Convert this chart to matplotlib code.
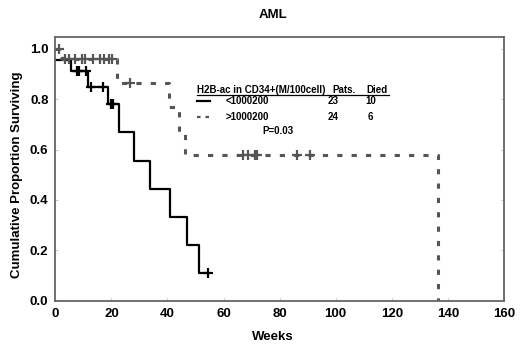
import numpy as np
import matplotlib
matplotlib.use("Agg")
import matplotlib.pyplot as plt

plt.rcParams['font.family'] = ['Liberation Sans', 'DejaVu Sans']
plt.rcParams['font.weight'] = 'bold'

# 组1: H2B-ac < 1000200 (实线)
low_t = [0, 5.6, 11.8, 18.7, 22.8, 28.1, 33.7, 40.8, 46.9, 51.2, 54.3]
low_s = [0.957, 0.913, 0.848, 0.779, 0.668, 0.556, 0.445, 0.334, 0.222, 0.111, 0.111]
low_cens_t = [7.8, 8.6, 10.9, 12.9, 17.1, 19.9, 20.6, 54.3]
low_cens_s = [0.913, 0.913, 0.913, 0.848, 0.848, 0.779, 0.779, 0.111]

# 组2: H2B-ac > 1000200 (虚线)
high_t = [0, 2.5, 21.9, 40.4, 44.2, 46.3, 136.4]
high_s = [1.0, 0.958, 0.865, 0.77, 0.67, 0.577, 0.0]
high_cens_t = [1.3, 3.5, 5.0, 7.0, 9.4, 10.6, 13.6, 16.0, 17.2, 19.0, 20.1, 26.7,
               66.9, 68.6, 71.1, 71.9, 86.2, 91.0]
high_cens_s = [1.0] + [0.958] * 10 + [0.865] + [0.577] * 6

groups = ['<1000200', '>1000200']
pats = [23, 24]
died = [10, 6]

fig = plt.figure(figsize=(5.2, 3.48), dpi=100)
ax = fig.add_axes([0.1064, 0.136, 0.8625, 0.7585])

dash_col = '#555555'
ax.plot(low_t, low_s, drawstyle='steps-post', color='black', lw=1.6)
ax.plot(low_cens_t, low_cens_s, '+', color='black', ms=7, mew=1.6)
ax.plot(high_t, high_s, drawstyle='steps-post', color=dash_col, lw=2.2,
        linestyle=(0, (1.7, 3.0)))
ax.plot(high_cens_t, high_cens_s, '+', color=dash_col, ms=7, mew=1.6)

ax.set_xlim(0, 160)
ax.set_ylim(0, 1.048)
ax.set_xticks(np.arange(0, 161, 20))
ax.set_yticks(np.arange(0, 1.01, 0.2))
ax.set_yticklabels(['%.1f' % v for v in np.arange(0, 1.01, 0.2)])
ax.tick_params(direction='in', length=2, width=0.6, color='#bbbbbb',
               labelsize=9.5, pad=5, right=True, top=False)
for sp in ax.spines.values():
    sp.set_color('#666666')
    sp.set_linewidth(1.3)

ax.set_xlabel('Weeks', fontsize=9.5, fontweight='bold')
ax.set_ylabel('Cumulative Proportion Surviving', fontsize=9.5, fontweight='bold')
ax.xaxis.set_label_coords(0.485, -0.116)
ax.yaxis.set_label_coords(-0.073, 0.478)
fig.text(273 / 520, 1 - 15 / 348, 'AML', ha='center', va='center', fontsize=9.5, fontweight='bold')

# 图例表格 (坐标为轴比例)
fs = 7
hdr = dict(transform=ax.transAxes, fontsize=fs, fontweight='bold', va='center', ha='left')
ax.text(0.3158, 0.798, 'H2B-ac in CD34+(M/100cell)', **hdr)
ax.text(0.6168, 0.798, 'Pats.', **hdr)
ax.text(0.6925, 0.798, 'Died', **hdr)
ax.plot([0.3158, 0.7438], [0.779, 0.779], transform=ax.transAxes, color='black', lw=0.9)

row_y = [0.7576, 0.6947]
samples = [[0.3158, 0.3448], [0.3158, 0.350]]
styles = ['-', (0, (1.6, 2.2))]
cols = ['black', dash_col]
for i in range(2):
    y = row_y[i]
    ax.plot(samples[i], [y, y], transform=ax.transAxes, color=cols[i], lw=1.6,
            linestyle=styles[i])
    ax.text(0.3805, y, groups[i], **hdr)
    ax.text(0.6078, y, str(pats[i]), **hdr)
    ax.text(0.6902 if i == 0 else 0.6969, y, str(died[i]), **hdr)
ax.text(0.4622, 0.644, 'P=0.03', **hdr)

fig.savefig('out.png', dpi=100)
